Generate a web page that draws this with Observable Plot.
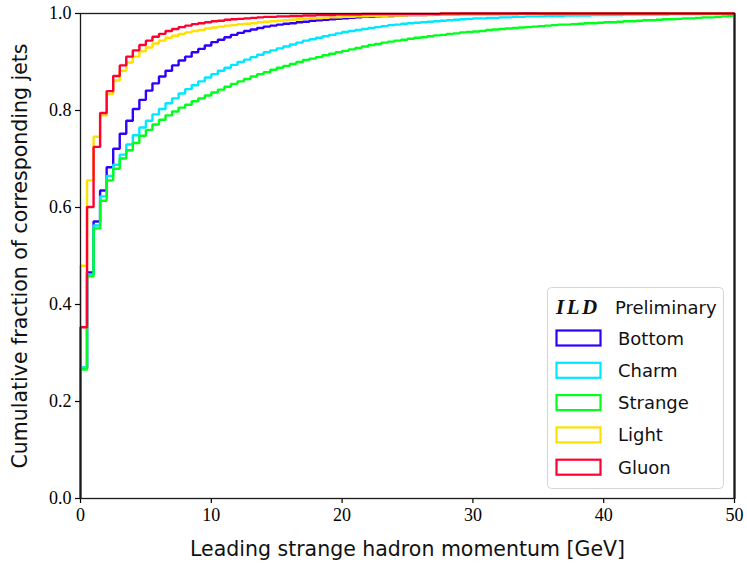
<!DOCTYPE html>
<html>
<head>
<meta charset="utf-8">
<script src="https://cdn.jsdelivr.net/npm/d3@7"></script>
<script src="https://cdn.jsdelivr.net/npm/@observablehq/plot@0.6"></script>
<style>
  body { margin: 0; background: #fff; }
  #wrap { position: relative; width: 747px; height: 570px; }
  #legend { position: absolute; left: 547px; top: 287px; }
</style>
</head>
<body>
<div id="wrap"></div>
<script>
// ---- data (cumulative fraction per 0.5 GeV bin, 0..50 GeV) ----
const binWidth = 0.5;
const xMin = 0, xMax = 50;
const xTicks = [0, 10, 20, 30, 40, 50];
const yTicks = [0, 0.2, 0.4, 0.6, 0.8, 1.0];
const xLabel = "Leading strange hadron momentum [GeV]";
const yLabel = "Cumulative fraction of corresponding jets";
const legendTitleBold = "ILD";
const legendTitleText = "Preliminary";

const seriesNames = ["Bottom", "Charm", "Strange", "Light", "Gluon"];
const seriesColors = ["#3000ff", "#00e8ff", "#00ff1c", "#ffe000", "#ff0030"];

const bottom = [
  0.269,0.466,0.571,0.635,0.683,0.721,0.752,0.779,0.803,0.822,
  0.841,0.856,0.870,0.882,0.893,0.903,0.911,0.920,0.927,0.934,
  0.941,0.946,0.951,0.956,0.960,0.964,0.967,0.970,0.973,0.975,
  0.977,0.979,0.980,0.982,0.983,0.985,0.986,0.987,0.988,0.989,
  0.990,0.991,0.992,0.993,0.993,0.994,0.995,0.995,0.996,0.996,
  0.997,0.997,0.997,0.998,0.998,0.998,0.998,0.998,0.999,0.999,
  0.999,0.999,0.999,0.999,0.999,0.999,0.999,1.000,1.000,1.000,
  1.000,1.000,1.000,1.000,1.000,1.000,1.000,1.000,1.000,1.000,
  1.000,1.000,1.000,1.000,1.000,1.000,1.000,1.000,1.000,1.000,
  1.000,1.000,1.000,1.000,1.000,1.000,1.000,1.000,1.000,1.000
];
const charm = [
  0.270,0.462,0.563,0.623,0.665,0.688,0.709,0.730,0.749,0.765,
  0.779,0.792,0.803,0.815,0.825,0.835,0.844,0.852,0.860,0.868,
  0.875,0.882,0.888,0.894,0.900,0.905,0.910,0.915,0.920,0.924,
  0.928,0.932,0.936,0.940,0.944,0.947,0.950,0.953,0.956,0.959,
  0.962,0.964,0.966,0.968,0.970,0.972,0.974,0.976,0.977,0.979,
  0.980,0.981,0.982,0.983,0.984,0.985,0.986,0.987,0.988,0.989,
  0.990,0.990,0.991,0.991,0.992,0.992,0.993,0.993,0.994,0.994,
  0.994,0.995,0.995,0.995,0.996,0.996,0.996,0.996,0.997,0.997,
  0.997,0.997,0.997,0.998,0.998,0.998,0.998,0.998,0.998,0.998,
  0.999,0.999,0.999,0.999,0.999,0.999,0.999,0.999,0.999,0.999
];
const strange = [
  0.266,0.458,0.557,0.614,0.656,0.680,0.701,0.718,0.733,0.748,
  0.760,0.771,0.781,0.790,0.798,0.806,0.812,0.819,0.825,0.831,
  0.837,0.843,0.849,0.855,0.860,0.865,0.870,0.875,0.879,0.884,
  0.888,0.892,0.896,0.900,0.904,0.907,0.910,0.914,0.917,0.920,
  0.923,0.926,0.929,0.932,0.935,0.937,0.940,0.942,0.944,0.946,
  0.948,0.950,0.951,0.953,0.955,0.956,0.958,0.959,0.961,0.962,
  0.963,0.964,0.966,0.967,0.968,0.969,0.970,0.971,0.972,0.973,
  0.974,0.975,0.976,0.977,0.977,0.978,0.979,0.980,0.980,0.981,
  0.982,0.982,0.983,0.984,0.984,0.985,0.986,0.986,0.987,0.988,
  0.988,0.989,0.990,0.990,0.991,0.992,0.992,0.993,0.994,0.995
];
const light = [
  0.480,0.656,0.746,0.790,0.834,0.862,0.882,0.899,0.911,0.922,
  0.930,0.938,0.944,0.950,0.954,0.958,0.961,0.964,0.966,0.969,
  0.971,0.973,0.975,0.976,0.978,0.979,0.980,0.982,0.983,0.984,
  0.985,0.986,0.987,0.988,0.989,0.990,0.990,0.991,0.992,0.992,
  0.993,0.993,0.994,0.994,0.995,0.995,0.995,0.996,0.996,0.996,
  0.997,0.997,0.997,0.997,0.998,0.998,0.998,0.998,0.998,0.998,
  0.999,0.999,0.999,0.999,0.999,0.999,0.999,0.999,0.999,0.999,
  1.000,1.000,1.000,1.000,1.000,1.000,1.000,1.000,1.000,1.000,
  1.000,1.000,1.000,1.000,1.000,1.000,1.000,1.000,1.000,1.000,
  1.000,1.000,1.000,1.000,1.000,1.000,1.000,1.000,1.000,1.000
];
const gluon = [
  0.353,0.601,0.725,0.795,0.840,0.871,0.893,0.911,0.924,0.935,
  0.944,0.952,0.958,0.964,0.968,0.972,0.975,0.978,0.980,0.982,
  0.984,0.985,0.987,0.988,0.989,0.990,0.991,0.992,0.993,0.993,
  0.994,0.994,0.995,0.995,0.996,0.996,0.997,0.997,0.997,0.998,
  0.998,0.998,0.998,0.999,0.999,0.999,0.999,0.999,0.999,0.999,
  0.999,0.999,0.999,0.999,0.999,1.000,1.000,1.000,1.000,1.000,
  1.000,1.000,1.000,1.000,1.000,1.000,1.000,1.000,1.000,1.000,
  1.000,1.000,1.000,1.000,1.000,1.000,1.000,1.000,1.000,1.000,
  1.000,1.000,1.000,1.000,1.000,1.000,1.000,1.000,1.000,1.000,
  1.000,1.000,1.000,1.000,1.000,1.000,1.000,1.000,1.000,1.000
];
const seriesValues = [bottom, charm, strange, light, gluon];

// step outline like matplotlib histtype="step"
function stepPoints(vals) {
  const pts = [{x: xMin, y: 0}];
  vals.forEach((v, i) => {
    pts.push({x: xMin + i * binWidth, y: v});
    pts.push({x: xMin + (i + 1) * binWidth, y: v});
  });
  pts.push({x: xMin + vals.length * binWidth, y: 0});
  return pts;
}

const serif = "'Liberation Serif', 'DejaVu Serif', serif";
const sans = "'DejaVu Sans', sans-serif";

const chart = Plot.plot({
  width: 747,
  height: 570,
  marginLeft: 80,
  marginRight: 13,
  marginTop: 13,
  marginBottom: 72,
  style: {background: "#fff", color: "#000"},
  x: {domain: [xMin, xMax]},
  y: {domain: [0, 1]},
  marks: [
    ...seriesValues.map((vals, k) =>
      Plot.line(stepPoints(vals), {
        x: "x", y: "y",
        stroke: seriesColors[k],
        strokeWidth: 2.4,
        strokeLinejoin: "miter",
        strokeLinecap: "butt"
      })
    ),
    Plot.axisX({ticks: xTicks, tickSize: 5, tickPadding: 5, tickFormat: d => String(d),
      fontSize: 18, fontFamily: serif, label: null, strokeWidth: 1.2}),
    Plot.axisY({ticks: yTicks, tickSize: 5, tickPadding: 4, tickFormat: d => d.toFixed(1),
      fontSize: 18, fontFamily: serif, label: null, strokeWidth: 1.2}),
    Plot.frame({stroke: "#1a1a1a", strokeWidth: 1.3}),
    Plot.text([xLabel], {text: d => d, frameAnchor: "bottom", dy: 51, lineAnchor: "middle",
      textAnchor: "middle", fontSize: 20.5, fontFamily: sans, fill: "#111"}),
    Plot.text([yLabel], {text: d => d, frameAnchor: "left", dx: -60, rotate: -90,
      textAnchor: "middle", lineAnchor: "middle", fontSize: 20.5, fontFamily: sans, fill: "#111"})
  ]
});

const wrap = document.getElementById("wrap");
wrap.appendChild(chart);

// ---- legend ----
const lg = d3.select(wrap).append("svg")
  .attr("id", "legend")
  .attr("width", 178).attr("height", 203);
lg.append("rect")
  .attr("x", 0.5).attr("y", 0.5).attr("width", 176).attr("height", 201)
  .attr("rx", 4).attr("fill", "rgba(255,255,255,0.85)")
  .attr("stroke", "#d4d4d4").attr("stroke-width", 1);
lg.append("text")
  .attr("x", 9).attr("y", 27)
  .attr("font-family", serif).attr("font-size", 21)
  .attr("font-weight", "bold").attr("font-style", "italic")
  .attr("letter-spacing", 2.5).attr("fill", "#111")
  .text(legendTitleBold);
lg.append("text")
  .attr("x", 68).attr("y", 27)
  .attr("font-family", sans).attr("font-size", 18).attr("fill", "#111")
  .text(legendTitleText);
seriesNames.forEach((name, i) => {
  const cy = 51 + 32.3 * i;
  lg.append("rect")
    .attr("x", 9.5).attr("y", cy - 7.5).attr("width", 44).attr("height", 15)
    .attr("fill", "none").attr("stroke", seriesColors[i]).attr("stroke-width", 2.2);
  lg.append("text")
    .attr("x", 71).attr("y", cy)
    .attr("dominant-baseline", "central")
    .attr("font-family", sans).attr("font-size", 18).attr("fill", "#111")
    .text(name);
});
</script>
</body>
</html>
